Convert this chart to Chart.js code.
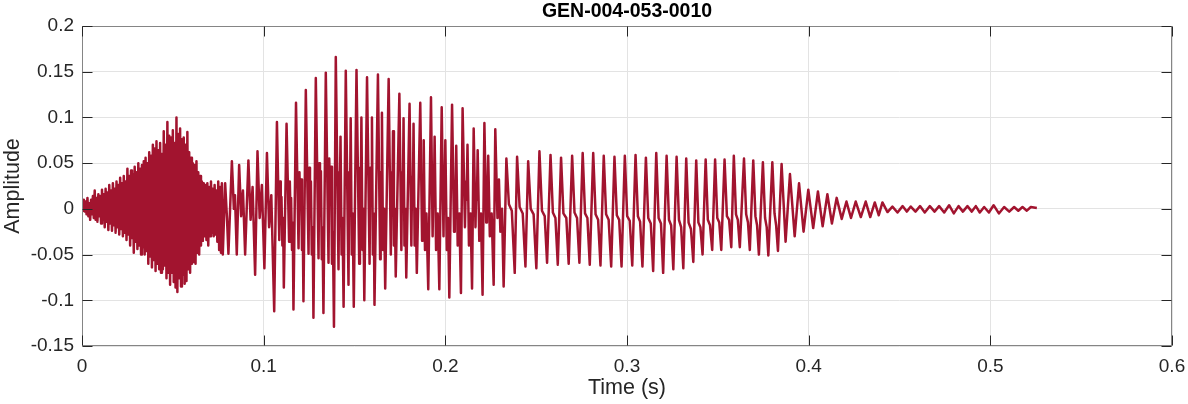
<!DOCTYPE html>
<html>
<head>
<meta charset="utf-8">
<script src="https://cdn.jsdelivr.net/npm/chart.js@4.4.1/dist/chart.umd.min.js"></script>
<style>
html,body{margin:0;padding:0;background:#ffffff;}
#wrap{width:1188px;height:404px;position:relative;}
</style>
</head>
<body>
<div id="wrap"><canvas id="c"></canvas></div>
<script>
// ---------- text ----------
const chartTitle = 'GEN-004-053-0010';
const xAxisLabel = 'Time (s)';
const yAxisLabel = 'Amplitude';

// ---------- tick labels ----------
const xTickValues = [0, 0.1, 0.2, 0.3, 0.4, 0.5, 0.6];
const yTickValues = [-0.15, -0.1, -0.05, 0, 0.05, 0.1, 0.15, 0.2];

// ---------- waveform extremes (time in ms, amplitude) ----------
// noisy onset burst
const burstMs = [
  0, 0.5, 1, 1.5, 2, 2.5, 3, 3.5, 4, 4.5,
  5, 5.5, 6, 6.5, 7, 7.5, 8, 8.5, 9, 9.5,
  10, 10.5, 11, 11.5, 12, 12.5, 13, 13.5, 14, 14.5,
  15, 15.5, 16, 16.5, 17, 17.5, 18, 18.5, 19, 19.5,
  20, 20.5, 21, 21.5, 22, 22.5, 23, 23.5, 24, 24.5,
  25, 25.5, 26, 26.5, 27, 27.5, 28, 28.5, 29, 29.5,
  30, 30.5, 31, 31.5, 32, 32.5, 33, 33.5, 34, 34.5,
  35, 35.5, 36, 36.5, 37, 37.5, 38, 38.5, 39, 39.5,
  40, 40.5, 41, 41.5, 42, 42.5, 43, 43.5, 44, 44.5,
  45, 45.5, 46, 46.5, 47, 47.5, 48, 48.5, 49, 49.5,
  50, 50.5, 51, 51.5, 52, 52.5, 53, 53.5, 54, 54.5,
  55, 55.5, 56, 56.5, 57, 57.5, 58, 58.5, 59, 59.5,
  60, 60.5, 61, 61.5, 62, 62.5, 63, 63.5, 64, 64.5,
  65, 65.5, 66, 66.5, 67, 67.5, 68, 68.5, 69, 69.5,
  70, 70.5, 71, 71.5, 72, 72.5, 73, 73.5, 74, 74.5,
  75, 75.5, 76, 76.5, 77, 77.5
];
const burstAmp = [
  0.003, -0.002, 0.010, -0.003, 0.008, -0.006, 0.012, -0.008, 0.006, -0.012,
  0.010, -0.006, 0.014, -0.010, 0.020, -0.012, 0.012, -0.014, 0.016, -0.008,
  0.014, -0.016, 0.021, -0.012, 0.016, -0.020, 0.022, -0.014, 0.018, -0.023,
  0.026, -0.016, 0.020, -0.024, 0.028, -0.018, 0.022, -0.026, 0.030, -0.020,
  0.026, -0.028, 0.034, -0.022, 0.028, -0.030, 0.036, -0.026, 0.030, -0.034,
  0.044, -0.028, 0.036, -0.040, 0.042, -0.032, 0.038, -0.048, 0.046, -0.036,
  0.040, -0.044, 0.050, -0.040, 0.044, -0.050, 0.048, -0.042, 0.052, -0.050,
  0.056, -0.046, 0.050, -0.060, 0.062, -0.052, 0.058, -0.064, 0.070, -0.056,
  0.066, -0.068, 0.074, -0.060, 0.064, -0.066, 0.072, -0.070, 0.060, -0.066,
  0.085, -0.062, 0.070, -0.076, 0.095, -0.070, 0.080, -0.083, 0.078, -0.070,
  0.086, -0.080, 0.072, -0.086, 0.100, -0.091, 0.082, -0.076, 0.088, -0.085,
  0.076, -0.072, 0.078, -0.082, 0.070, -0.079, 0.084, -0.066, 0.062, -0.070,
  0.056, -0.060, 0.050, -0.058, 0.048, -0.060, 0.052, -0.048, 0.040, -0.050,
  0.036, -0.040, 0.030, -0.035, 0.028, -0.030, 0.026, -0.034, 0.028, -0.040,
  0.024, -0.030, 0.030, -0.026, 0.022, -0.030, 0.026, -0.028, 0.020, -0.036,
  0.030, -0.045, 0.024, -0.048, 0.028, -0.050
];

// voiced part: main peaks, troughs, shoulders and secondary peaks
const voicedMs = [
  78.8, 79.8, 80.6, 82.5, 83.6, 84.2, 85.2, 86.5, 87.6, 88.6,
  89.8, 91.6, 92.8, 93.9, 95.3, 96.6, 97.8, 99.0, 100.4, 101.8,
  103.0, 104.2, 105.8, 107.3, 108.6, 109.8, 111.1, 112.6, 114.0, 115.1,
  116.4, 117.8, 119.2, 120.6, 121.9, 123.2, 124.7, 126.0, 127.4, 128.7,
  130.2, 131.5, 132.9, 134.2, 135.7, 137.1, 138.7, 139.7, 141.2, 142.3,
  144.0, 145.2, 146.7, 147.9, 149.6, 151.1, 152.6, 153.8, 155.4, 156.9,
  158.3, 159.6, 161.0, 162.9, 164.1, 165.1, 166.9, 168.8, 170.0, 171.2,
  172.7, 174.7, 175.8, 177.0, 178.5, 180.3, 181.3, 182.5, 184.3, 186.2,
  187.2, 188.1, 190.6, 192.1, 193.0, 194.1, 196.7, 198.0, 199.0, 200.0,
  202.2, 203.7, 204.8, 206.0, 208.6, 209.5, 210.8, 212.2, 214.7, 215.6,
  216.6, 217.8, 220.5, 221.5, 222.5, 223.6, 226.6, 227.5, 228.7, 229.5,
  232.1, 233.6, 235.0, 236.6, 238.2, 239.5, 240.9, 242.6, 244.1, 245.6,
  247.0, 248.6, 250.1, 251.8, 253.2, 254.7, 256.0, 257.9, 259.2, 260.6,
  261.9, 263.7, 265.0, 266.6, 267.9, 269.8, 271.1, 272.5, 273.8, 275.6,
  276.9, 278.2, 279.5, 281.4, 282.7, 284.1, 285.4, 287.2, 288.5, 289.9,
  291.3, 293.1, 294.4, 295.7, 297.0, 298.8, 300.1, 301.5, 302.9, 304.7,
  306.0, 307.2, 308.5, 310.4, 311.7, 313.1, 314.4, 316.1, 317.4, 318.7,
  319.9, 321.8, 323.1, 324.3, 325.5, 327.3, 328.6, 329.8, 331.0, 332.6,
  333.9, 335.2, 336.5, 338.1, 339.3, 340.4, 341.6, 343.3, 344.5, 345.7,
  346.9, 348.5, 349.7, 350.8, 351.9, 353.7, 355.0, 356.2, 357.4, 358.8,
  360.0, 361.0, 362.1, 364.4, 365.6, 366.6, 367.6, 369.5, 370.7, 371.6,
  372.6, 374.8, 376.0, 376.9, 377.8, 380.0, 381.2, 382.1, 383.1, 385.1
];
const voicedAmp = [
  0.028, -0.010, -0.049, 0.052, 0.000, 0.015, -0.050, 0.048, -0.008, 0.020,
  -0.050, 0.053, -0.012, 0.024, -0.072, 0.063, -0.010, 0.026, -0.065, 0.061,
  -0.020, 0.015, -0.112, 0.095, -0.034, 0.013, -0.086, 0.093, -0.036, 0.012,
  -0.110, 0.116, -0.043, 0.032, -0.101, 0.130, -0.049, 0.030, -0.119, 0.143,
  -0.054, 0.041, -0.114, 0.149, -0.059, 0.046, -0.129, 0.166, -0.066, 0.079,
  -0.107, 0.151, -0.083, 0.099, -0.107, 0.152, -0.060, 0.100, -0.100, 0.144,
  -0.060, 0.100, -0.105, 0.147, -0.055, 0.105, -0.087, 0.142, -0.050, 0.085,
  -0.074, 0.126, -0.045, 0.099, -0.075, 0.115, -0.040, 0.093, -0.070, 0.116,
  -0.035, 0.075, -0.088, 0.122, -0.030, 0.079, -0.088, 0.111, -0.030, 0.075,
  -0.097, 0.114, -0.025, 0.069, -0.092, 0.110, -0.020, 0.070, -0.087, 0.088,
  -0.020, 0.064, -0.094, 0.094, -0.015, 0.058, -0.083, 0.087, -0.010, 0.032,
  -0.085, 0.055, 0.005, -0.002, -0.070, 0.057, 0.002, -0.005, -0.063, 0.052,
  0.000, -0.006, -0.065, 0.063, -0.002, -0.008, -0.059, 0.059, -0.004, -0.010,
  -0.061, 0.056, -0.005, -0.010, -0.060, 0.058, -0.004, -0.010, -0.059, 0.061,
  -0.005, -0.010, -0.061, 0.061, -0.006, -0.012, -0.062, 0.058, -0.006, -0.012,
  -0.063, 0.057, -0.007, -0.012, -0.063, 0.058, -0.008, -0.013, -0.062, 0.059,
  -0.008, -0.014, -0.063, 0.056, -0.010, -0.016, -0.068, 0.061, -0.010, -0.016,
  -0.070, 0.058, -0.012, -0.018, -0.066, 0.057, -0.012, -0.020, -0.065, 0.055,
  -0.015, -0.022, -0.058, 0.053, -0.015, -0.020, -0.050, 0.054, -0.012, -0.018,
  -0.045, 0.054, -0.010, -0.015, -0.045, 0.054, -0.008, -0.012, -0.042, 0.058,
  -0.006, -0.012, -0.042, 0.055, -0.006, -0.015, -0.045, 0.053, -0.008, -0.018,
  -0.050, 0.051, -0.010, -0.020, -0.051, 0.051, -0.005, -0.018, -0.046, 0.049
];

// small ripples inside the strongest cycles (dense fill between the big swings)
const rippleMs = [
  109.0, 109.4, 110.3, 110.7,
  114.4, 114.8, 115.6, 116.0,
  119.7, 120.1, 121.1, 121.5,
  125.1, 125.5, 126.5, 127.0,
  130.6, 131.0, 132.0, 132.4,
  136.1, 136.6, 137.6, 138.1,
  141.6, 141.9, 142.9, 143.4,
  147.1, 147.5, 148.5, 149.0,
  153.0, 153.4, 154.4, 154.9,
  158.7, 159.1, 160.1, 160.6,
  164.4, 164.7, 165.7, 166.3,
  170.4, 170.8, 171.7, 172.2,
  176.2, 176.6, 177.5, 178.0,
  181.7, 182.1, 183.1, 183.7,
  187.5, 187.8, 188.8, 189.6,
  193.4, 193.7, 194.9, 195.8,
  199.3, 199.6, 200.8, 201.5,
  205.2, 205.6, 206.8, 207.7,
  211.3, 211.7, 213.0, 213.9,
  217.0, 217.4, 218.7, 219.6,
  222.9, 223.2, 224.5, 225.5,
  230.3, 231.2
];
const rippleAmp = [
  0.030, -0.010, -0.040, -0.010,
  0.030, -0.008, -0.045, -0.015,
  0.040, 0.000, -0.045, -0.015,
  0.045, -0.005, -0.050, -0.020,
  0.050, 0.000, -0.055, -0.020,
  0.055, 0.005, -0.060, -0.025,
  0.040, 0.010, -0.050, -0.010,
  0.040, 0.000, -0.050, -0.005,
  0.045, 0.005, -0.045, 0.000,
  0.045, 0.005, -0.050, -0.005,
  0.040, 0.010, -0.045, 0.000,
  0.040, 0.005, -0.040, 0.000,
  0.040, 0.005, -0.040, 0.000,
  0.035, 0.005, -0.040, 0.000,
  0.030, 0.010, -0.045, -0.005,
  0.030, 0.010, -0.045, -0.005,
  0.030, 0.010, -0.045, -0.010,
  0.030, 0.010, -0.040, -0.005,
  0.030, 0.010, -0.040, -0.005,
  0.025, 0.010, -0.035, -0.005,
  0.025, 0.010, -0.030, -0.005,
  -0.025, 0.000
];

// decaying tail
const tailMs = [
  387.3, 389.7, 392.3, 394.7, 397.2, 399.8, 402.5, 405.1, 407.7, 410.3,
  412.8, 415.4, 418.2, 420.8, 423.3, 425.9, 428.7, 431.4, 433.9, 436.4,
  438.6, 440.6, 443.4, 446.1, 448.9, 451.7, 454.0, 456.2, 458.8, 461.3,
  463.9, 466.7, 469.3, 471.8, 474.6, 477.3, 479.9, 482.5, 484.9, 487.4,
  489.8, 492.0, 494.2, 496.6, 499.2, 501.8, 504.7, 507.6, 510.4, 513.1,
  515.4, 517.7, 520.1, 522.3, 525.6
];
const tailAmp = [
  -0.036, 0.038, -0.030, 0.028, -0.025, 0.021, -0.021, 0.019, -0.019, 0.016,
  -0.016, 0.012, -0.011, 0.008, -0.010, 0.008, -0.009, 0.008, -0.009, 0.007,
  -0.007, 0.007, -0.0035, 0.0025, -0.004, 0.003, -0.003, 0.0025, -0.003, 0.003,
  -0.004, 0.003, -0.003, 0.003, -0.004, 0.004, -0.005, 0.003, -0.003, 0.003,
  -0.003, 0.003, -0.004, 0.002, -0.004, 0.004, -0.005, 0.002, -0.003, 0.002,
  -0.002, 0.002, -0.002, 0.002, 0.001
];

// ---------- build the line from the arrays ----------
const points = [];
function addSegment(ms, amp) {
  for (let i = 0; i < ms.length; i++) points.push({ x: ms[i] / 1000, y: amp[i] });
}
addSegment(burstMs, burstAmp);
addSegment(voicedMs, voicedAmp);
addSegment(rippleMs, rippleAmp);
addSegment(tailMs, tailAmp);
points.sort((a, b) => a.x - b.x);

const FONT = 'Liberation Sans, Arial, Helvetica, sans-serif';
const TXT = '#262626';

function fmt(v) { return String(Number(v.toFixed(2))); }

// frame + inward tick marks (MATLAB box style)
const boxPlugin = {
  id: 'boxPlugin',
  afterDatasetsDraw(chart) {
    const { ctx, chartArea: a, scales } = chart;
    const L = Math.round(a.left) + 0.5, R = Math.round(a.right) - 0.5;
    const T = Math.round(a.top) + 0.5, B = Math.round(a.bottom) - 0.5;
    ctx.save();
    ctx.strokeStyle = '#858585';
    ctx.lineWidth = 1;
    ctx.strokeRect(L, T, R - L, B - T);
    ctx.strokeStyle = TXT;
    const len = 10;
    ctx.beginPath();
    xTickValues.forEach(v => {
      const px = Math.round(scales.x.getPixelForValue(v)) + 0.5;
      ctx.moveTo(px, B); ctx.lineTo(px, B - len);
      ctx.moveTo(px, T); ctx.lineTo(px, T + len);
    });
    yTickValues.forEach(v => {
      const py = Math.round(scales.y.getPixelForValue(v)) + 0.5;
      ctx.moveTo(L, py); ctx.lineTo(L + len, py);
      ctx.moveTo(R, py); ctx.lineTo(R - len, py);
    });
    ctx.stroke();
    ctx.restore();
  }
};

new Chart(document.getElementById('c'), {
  type: 'line',
  data: {
    datasets: [{
      data: points,
      borderColor: '#A2142F',
      borderWidth: 2.5,
      borderJoinStyle: 'round',
      pointRadius: 0,
      tension: 0,
      fill: false
    }]
  },
  options: {
    responsive: true,
    maintainAspectRatio: false,
    animation: false,
    events: [],
    layout: { padding: { left: 0, right: 16, top: 0, bottom: 0 } },
    plugins: {
      legend: { display: false },
      tooltip: { enabled: false },
      title: {
        display: true,
        text: chartTitle,
        fullSize: false,
        color: '#000000',
        font: { family: FONT, size: 19.5, weight: 'bold', lineHeight: 1.2 },
        padding: { top: 0, bottom: 2.6 }
      }
    },
    scales: {
      x: {
        type: 'linear',
        min: 0, max: 0.6,
        afterBuildTicks: s => { s.ticks = xTickValues.map(v => ({ value: v })); },
        afterFit: s => { s.height = 58; s.paddingLeft = 0; s.paddingRight = 0; },
        grid: { color: '#e3e3e3', lineWidth: 1, drawTicks: false },
        border: { display: false },
        ticks: {
          padding: 9,
          color: TXT,
          maxRotation: 0,
          font: { family: FONT, size: 19 },
          callback: v => fmt(v)
        },
        title: {
          display: true,
          text: xAxisLabel,
          color: TXT,
          font: { family: FONT, size: 21.5 },
          padding: { top: 0, bottom: 3 }
        }
      },
      y: {
        type: 'linear',
        min: -0.15, max: 0.2,
        afterBuildTicks: s => { s.ticks = yTickValues.map(v => ({ value: v })); },
        afterFit: s => { s.width = 82; s.paddingTop = 0; s.paddingBottom = 0; },
        grid: { color: '#e3e3e3', lineWidth: 1, drawTicks: false },
        border: { display: false },
        ticks: {
          padding: 8,
          color: TXT,
          font: { family: FONT, size: 19 },
          callback: v => fmt(v)
        },
        title: {
          display: true,
          text: yAxisLabel,
          color: TXT,
          font: { family: FONT, size: 21.5 },
          padding: { top: 0, bottom: 0 }
        }
      }
    }
  },
  plugins: [boxPlugin]
});
</script>
</body>
</html>
